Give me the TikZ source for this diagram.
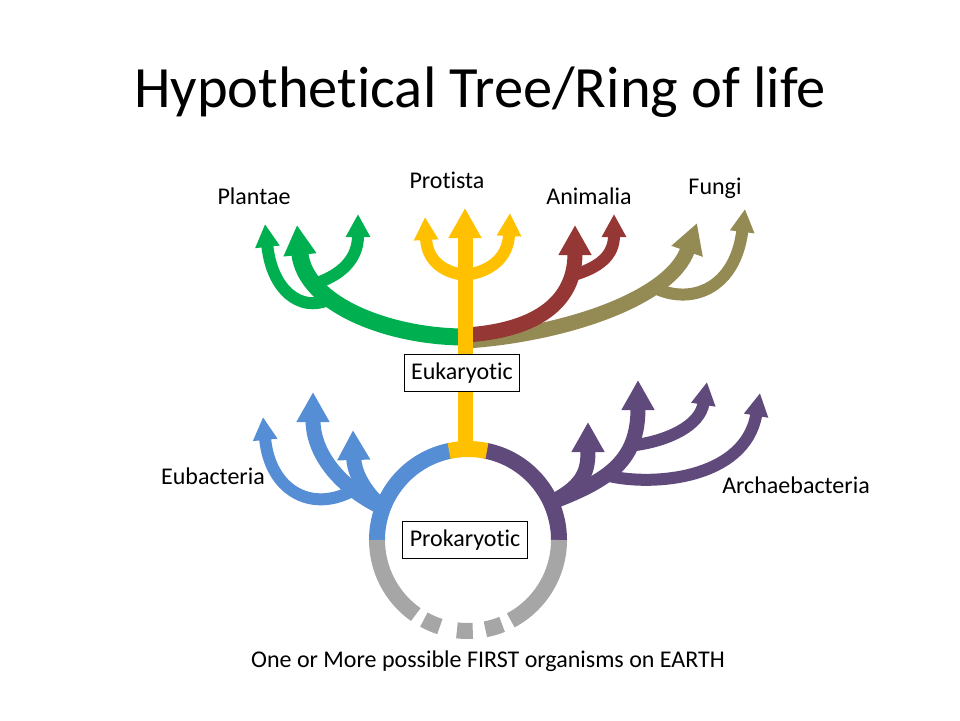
\documentclass[tikz,border=0pt]{standalone}
\usepackage{fontspec}
\setmainfont{Carlito}[Ligatures=NoCommon]
\usetikzlibrary{arrows.meta,calc}
\definecolor{plantgreen}{HTML}{00B050}
\definecolor{protyellow}{HTML}{FFC000}
\definecolor{animred}{HTML}{953735}
\definecolor{fungolive}{HTML}{948A54}
\definecolor{eublue}{HTML}{558ED5}
\definecolor{archpurple}{HTML}{604A7B}
\definecolor{ringgrey}{HTML}{A6A6A6}
\begin{document}
\begin{tikzpicture}[x=1pt,y=-1pt,
    trunk/.style={line width=15pt, -{Triangle[width=31pt,length=30pt]}},
    twig/.style={line width=12pt, -{Triangle[width=23pt,length=23pt]}},
    kingdom/.style={font=\fontsize{24}{28}\selectfont},
    cellbox/.style={rectangle, draw=black, fill=white, line width=0.8pt, font=\fontsize{24}{28}\selectfont, minimum height=37pt, inner xsep=7pt}]
    \useasboundingbox (0,0) rectangle (960,720);
    \node (title) at (480,92) {\fontsize{58.5}{62}\selectfont Hypothetical Tree/Ring of life};
    % ring
    \coordinate (ring) at (468,540);
    \draw[eublue, line width=16pt] (ring) ++(180:91) arc[start angle=180, end angle=259, radius=91];
    \draw[archpurple, line width=16pt] (ring) ++(281:91) arc[start angle=281, end angle=360, radius=91];
    \draw[ringgrey, line width=16pt] (ring) ++(125:91) arc[start angle=125, end angle=180, radius=91];
    \draw[ringgrey, line width=16pt] (ring) ++(0:91) arc[start angle=0, end angle=62, radius=91];
    \foreach \a/\b in {108/119, 87/97, 68/79}
        \draw[ringgrey, line width=16pt] (ring) ++(\a:91) arc[start angle=\a, end angle=\b, radius=91];
    \draw[protyellow, line width=16pt] (ring) ++(258:91) arc[start angle=258, end angle=282, radius=91];
    % eukaryotic branches
    \coordinate (eu) at (465,337);
    \coordinate (plantae) at (297,225);
    \coordinate (plantjoin) at (328,300);
    \coordinate (plantfork) at (317,283);
    \draw[plantgreen, trunk, line width=17pt] (eu) .. controls (390,337) and (305,305) .. (plantae);
    \coordinate (plantA) at (265,224);
    \coordinate (plantB) at (358,214);
    \draw[plantgreen, twig] (plantjoin) .. controls (300,312) and (272,290) .. (plantA);
    \draw[plantgreen, twig] (plantfork) .. controls (340,275) and (358,260) .. (plantB);
    \coordinate (animalia) at (575,225);
    \coordinate (animB) at (614,214);
    \coordinate (animfork) at (570,276);
    \draw[fungolive, trunk] (466,341) .. controls (560,335) and (670,300) .. (697,223) coordinate (fungi);
    \coordinate (fungfork) at (655,288);
    \coordinate (fungB) at (745,209);
    \draw[fungolive, twig] (fungfork) .. controls (690,305) and (735,290) .. (fungB);
    \draw[animred, trunk] (466,335) .. controls (540,330) and (575,300) .. (animalia);
    \draw[animred, twig] (animfork) .. controls (600,268) and (614,255) .. (animB);
    \coordinate (protfork) at (465,275);
    \draw[protyellow, twig] (protfork) .. controls (440,272) and (427,258) .. (425,217) coordinate (protA);
    \draw[protyellow, twig] (protfork) .. controls (490,272) and (508,258) .. (510,213) coordinate (protB);
    \draw[protyellow, trunk] (465,445) -- (465,208) coordinate (protista);
    % prokaryotic branches
    \coordinate (eubroot) at (383,508);
    \draw[eublue, trunk] (eubroot) .. controls (335,485) and (313,450) .. (313,392) coordinate (eubB);
    \draw[eublue, trunk] (eubroot) .. controls (362,490) and (354,470) .. (353,430) coordinate (eubC);
    \draw[eublue, twig] (350,492) .. controls (310,512) and (270,490) .. (263,417) coordinate (eubA);
    \coordinate (archroot) at (552,502);
    \draw[archpurple, trunk] (archroot) .. controls (585,485) and (588,470) .. (588,422) coordinate (archA);
    \draw[archpurple, trunk] (archroot) .. controls (610,480) and (638,460) .. (638,380) coordinate (archB);
    \draw[archpurple, twig] (636,445) .. controls (670,440) and (700,425) .. (707,382) coordinate (archC);
    \draw[archpurple, twig] (605,475) .. controls (650,487) and (745,480) .. (760,393) coordinate (archD);
    % boxes and labels
    \node[cellbox] (eukaryotic) at (462,373) {Eukaryotic};
    \node[cellbox] (prokaryotic) at (465,540) {Prokaryotic};
    \node[kingdom] (plantaelbl) at (254,196) {Plantae};
    \node[kingdom] (protistalbl) at (447,180) {Protista};
    \node[kingdom] (animalialbl) at (589,196) {Animalia};
    \node[kingdom] (fungilbl) at (715,188) {Fungi};
    \node[kingdom] (eubacteria) at (213,476) {Eubacteria};
    \node[kingdom] (archaea) at (796,485) {Archaebacteria};
    \node[kingdom] (first) at (488,661) {One or More possible FIRST organisms on EARTH};
\end{tikzpicture}
\end{document}
